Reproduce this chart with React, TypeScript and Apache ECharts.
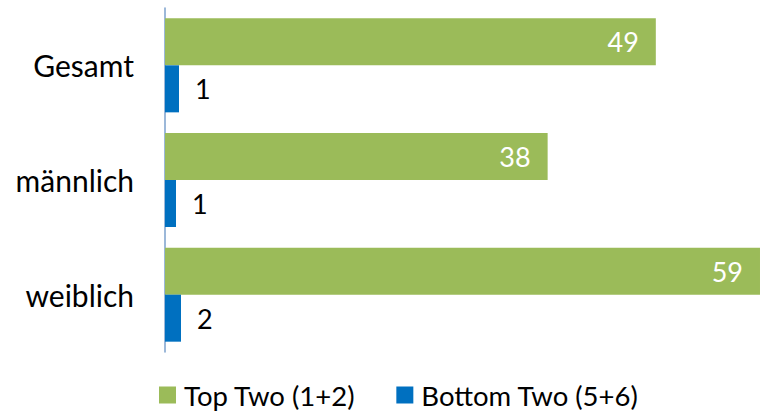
import React, { useEffect, useRef } from "react";
import * as echarts from "echarts";

const categories = ["Gesamt", "männlich", "weiblich"];
const topTwo = [49.0, 38.2, 59.4];
const bottomTwo = [1.4, 1.1, 1.6];
const seriesNames = ["Top Two (1+2)", "Bottom Two (5+6)"];

const FONT = "Lato";

export default function App() {
  const ref = useRef<HTMLDivElement>(null);
  useEffect(() => {
    if (!ref.current) return;
    const chart = echarts.init(ref.current, null, { renderer: "svg" });
    chart.setOption({
      animation: false,
      backgroundColor: "#ffffff",
      grid: { left: 165, top: 8, width: 603, height: 344, containLabel: false },
      xAxis: {
        type: "value",
        min: 0,
        max: 60,
        show: false,
      },
      yAxis: {
        type: "category",
        data: categories,
        inverse: true,
        axisLine: { show: true, lineStyle: { color: "#7BA0CD", width: 1.5 } },
        axisTick: { show: false },
        axisLabel: { margin: 31, fontSize: 30, color: "#000", fontFamily: FONT },
      },
      legend: {
        left: 159,
        top: 381,
        padding: 0,
        itemWidth: 17,
        itemHeight: 17,
        itemGap: 41,
        icon: "rect",
        textStyle: { fontSize: 27.5, color: "#000", fontFamily: FONT, padding: [0, 0, 0, 3] },
        data: seriesNames,
      },
      series: [
        {
          name: seriesNames[0],
          type: "bar",
          data: topTwo,
          barGap: "0%",
          barCategoryGap: "18%",
          itemStyle: { color: "#9BBB59" },
          label: {
            show: true,
            position: "insideRight",
            distance: 17,
            color: "#fff",
            fontSize: 27,
            fontFamily: FONT,
            formatter: (p: any) => String(Math.round(p.value)),
          },
        },
        {
          name: seriesNames[1],
          type: "bar",
          data: bottomTwo,
          itemStyle: { color: "#0070C0" },
          label: {
            show: true,
            position: "right",
            distance: 16,
            color: "#000",
            fontSize: 27,
            fontFamily: FONT,
            formatter: (p: any) => String(Math.round(p.value)),
          },
        },
      ],
    });
    return () => chart.dispose();
  }, []);
  return (
    <div
      ref={ref}
      style={{ position: "fixed", left: 0, top: 0, width: 766, height: 412 }}
    />
  );
}
